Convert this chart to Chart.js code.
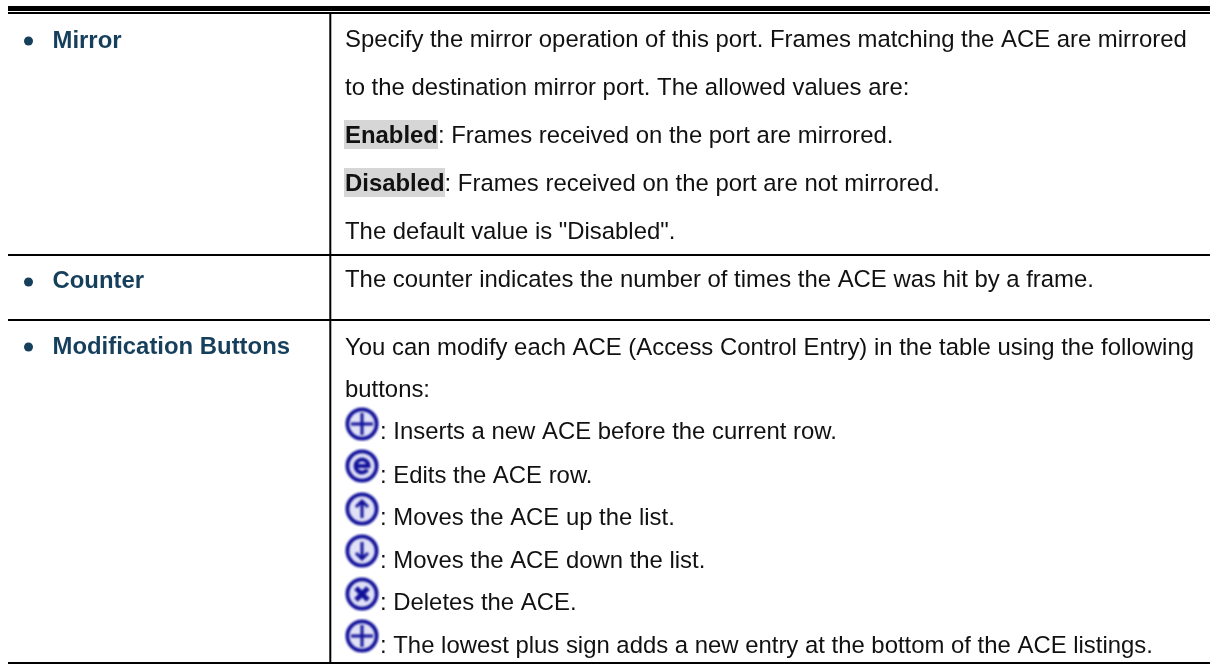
<!DOCTYPE html>
<html>
<head>
<meta charset="utf-8">
<title>ACE table</title>
<style>
    html, body { margin: 0; padding: 0; background: #fff; }
    canvas { display: block; }
</style>
<script src="https://cdn.jsdelivr.net/npm/chart.js@4/dist/chart.umd.min.js"></script>
</head>
<body>
<canvas id="table" width="1210" height="664"></canvas>
<script>
// table content, y values are the baselines on the 0-664 axis
var rowLabels = ['Mirror', 'Counter', 'Modification Buttons'];
var rowLabelY = [48, 288, 354];
var bulletY = [41, 282, 347];

var bodyBold = ['', '', 'Enabled', 'Disabled', '', '', '', '', '', '', '', '', '', ''];
var bodyText = [
    'Specify the mirror operation of this port. Frames matching the ACE are mirrored',
    'to the destination mirror port. The allowed values are:',
    ': Frames received on the port are mirrored.',
    ': Frames received on the port are not mirrored.',
    'The default value is "Disabled".',
    'The counter indicates the number of times the ACE was hit by a frame.',
    'You can modify each ACE (Access Control Entry) in the table using the following',
    'buttons:',
    ': Inserts a new ACE before the current row.',
    ': Edits the ACE row.',
    ': Moves the ACE up the list.',
    ': Moves the ACE down the list.',
    ': Deletes the ACE.',
    ': The lowest plus sign adds a new entry at the bottom of the ACE listings.'
];
var bodyY = [47, 95, 143, 191, 239, 287, 355, 397, 439, 483, 525, 568, 610, 653];
var bodyX = [345, 345, 345, 345, 345, 345, 345, 345, 380, 380, 380, 380, 380, 380];

var highlightX = [344, 344];
var highlightEndX = [438, 445];
var highlightTop = [120, 168];
var highlightBottom = [149, 197];

var iconNames = ['plus', 'edit', 'up', 'down', 'delete', 'plus'];
var iconY = [424, 466, 509, 551, 594, 636];
var iconX = [362, 362, 362, 362, 362, 362];

var ruleLeft = 8;
var ruleRight = 1210;
var columnX = 330.3;
var heavyRuleY = 8.5;
var thinRuleY = 13;
var rowRuleY = [255, 320, 663];

var labelColor = '#163f5c';
var textColor = '#111111';
var iconColor = '#10109a';

var makeIcon = function(name) {
    var c = document.createElement('canvas');
    c.width = 36;
    c.height = 36;
    var g = c.getContext('2d');
    g.filter = 'blur(0.8px)';
    g.fillStyle = '#e2e2f6';
    g.beginPath();
    g.arc(18, 18, 15, 0, Math.PI * 2);
    g.fill();
    g.strokeStyle = iconColor;
    g.lineWidth = 3.8;
    g.beginPath();
    g.arc(18, 18, 14.6, 0, Math.PI * 2);
    g.stroke();

    g.lineWidth = 3;
    g.lineCap = 'butt';
    g.beginPath();
    if (name == 'plus') {
        g.moveTo(18, 7); g.lineTo(18, 29);
        g.moveTo(7, 18); g.lineTo(29, 18);
    } else if (name == 'up') {
        g.moveTo(18, 27); g.lineTo(18, 10);
        g.moveTo(12, 16); g.lineTo(18, 10); g.lineTo(24, 16);
    } else if (name == 'down') {
        g.moveTo(18, 9); g.lineTo(18, 26);
        g.moveTo(12, 20); g.lineTo(18, 26); g.lineTo(24, 20);
    } else if (name == 'delete') {
        g.lineWidth = 5;
        g.moveTo(12, 12); g.lineTo(24, 24);
        g.moveTo(24, 12); g.lineTo(12, 24);
    } else if (name == 'edit') {
        g.lineWidth = 4;
        g.arc(18, 18, 6.5, 0.6, Math.PI * 2);
        g.lineTo(11.5, 18);
    }
    g.stroke();
    return c;
};

var ruleDataset = function(points, width) {
    return {
        type: 'line',
        data: points,
        borderColor: '#000',
        borderWidth: width,
        borderCapStyle: 'butt',
        pointRadius: 0,
        tension: 0
    };
};

var datasets = [];
datasets.push(ruleDataset([{x: ruleLeft, y: heavyRuleY}, {x: ruleRight, y: heavyRuleY}], 5));
datasets.push(ruleDataset([{x: ruleLeft, y: thinRuleY}, {x: ruleRight, y: thinRuleY}], 2));
rowRuleY.forEach(function(y) {
    datasets.push(ruleDataset([{x: ruleLeft, y: y}, {x: ruleRight, y: y}], 2));
});
datasets.push(ruleDataset([{x: columnX, y: thinRuleY}, {x: columnX, y: rowRuleY[2]}], 2));

// bullets
datasets.push({
    type: 'scatter',
    data: bulletY.map(function(y) { return {x: 28.5, y: y}; }),
    backgroundColor: labelColor,
    borderWidth: 0,
    pointRadius: 4.5
});

// button icons
datasets.push({
    type: 'scatter',
    data: iconY.map(function(y, i) { return {x: iconX[i], y: y}; }),
    pointStyle: iconNames.map(makeIcon)
});

// grey highlights and all the text go on through the same two axes
var tableText = {
    id: 'tableText',
    beforeDatasetsDraw: function(chart) {
        var ctx = chart.ctx, sx = chart.scales.x, sy = chart.scales.y;
        ctx.save();
        ctx.fillStyle = '#d6d6d6';
        highlightX.forEach(function(x, i) {
            var left = sx.getPixelForValue(x);
            var top = sy.getPixelForValue(highlightTop[i]);
            ctx.fillRect(left, top, sx.getPixelForValue(highlightEndX[i]) - left, sy.getPixelForValue(highlightBottom[i]) - top);
        });
        ctx.restore();
    },
    afterDatasetsDraw: function(chart) {
        var ctx = chart.ctx, sx = chart.scales.x, sy = chart.scales.y;
        ctx.save();
        ctx.textBaseline = 'alphabetic';

        ctx.fillStyle = labelColor;
        ctx.font = 'bold 23.9px "Liberation Sans"';
        rowLabels.forEach(function(label, i) {
            ctx.fillText(label, sx.getPixelForValue(52.5), sy.getPixelForValue(rowLabelY[i]));
        });

        ctx.fillStyle = textColor;
        bodyText.forEach(function(line, i) {
            var x = sx.getPixelForValue(bodyX[i]), y = sy.getPixelForValue(bodyY[i]);
            if (bodyBold[i]) {
                ctx.font = 'bold 23.9px "Liberation Sans"';
                ctx.fillText(bodyBold[i], x, y);
                x += ctx.measureText(bodyBold[i]).width;
            }
            ctx.font = '23.9px "Liberation Sans"';
            ctx.fillText(line, x, y);
        });
        ctx.restore();
    }
};

new Chart(document.getElementById('table'), {
    type: 'scatter',
    data: {datasets: datasets},
    plugins: [tableText],
    options: {
        responsive: false,
        animation: false,
        layout: {padding: 0, autoPadding: false},
        plugins: {legend: {display: false}, tooltip: {enabled: false}},
        scales: {
            x: {type: 'linear', min: 0, max: 1210, display: false},
            y: {type: 'linear', min: 0, max: 664, reverse: true, display: false}
        }
    }
});
</script>
</body>
</html>
